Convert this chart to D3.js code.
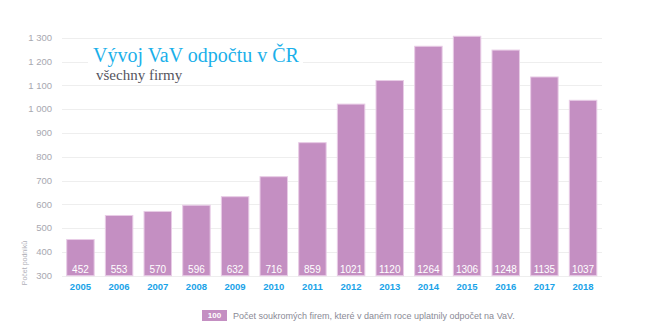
<!DOCTYPE html>
<html><head><meta charset="utf-8">
<script src="https://cdnjs.cloudflare.com/ajax/libs/d3/7.8.5/d3.min.js"></script>
<style>body{margin:0;background:#fff}</style>
</head><body><div id="chart"></div>
<script>
const years = ["2005","2006","2007","2008","2009","2010","2011","2012","2013","2014","2015","2016","2017","2018"];
const firms = [452,553,570,596,632,716,859,1021,1120,1264,1306,1248,1135,1037];
const yTicks = [300,400,500,600,700,800,900,1000,1100,1200,1300];
const title = "Vývoj VaV odpočtu v ČR";
const subtitle = "všechny firmy";
const yTitle = "Počet podniků";
const legendText = "Počet soukromých firem, které v daném roce uplatnily odpočet na VaV.";

const W = 650, H = 331;
const svg = d3.select("#chart").append("svg").attr("width", W).attr("height", H);
const x = d3.scaleBand().domain(years).range([61.1, 602.4]).paddingInner(0.29).paddingOuter(0.145);
const y = d3.scaleLinear().domain([300, 1300]).range([275.7, 37.7]);
const fmt = v => d3.format(",")(v).replace(/,/g, " ");
const sans = "'Liberation Sans', Arial, sans-serif";

// gridlines
svg.append("g").selectAll("line").data(yTicks).join("line")
  .attr("x1", 62).attr("x2", 602)
  .attr("y1", d => Math.round(y(d)) + 0.5).attr("y2", d => Math.round(y(d)) + 0.5)
  .attr("stroke", "#eeeeee").attr("stroke-width", 1.2);

// y tick labels
svg.append("g").selectAll("text").data(yTicks).join("text")
  .attr("x", 52).attr("y", d => y(d)).attr("dy", "0.35em")
  .attr("text-anchor", "end").attr("fill", "#a8a8b0")
  .style("font", "9.5px " + sans).text(fmt);

// y title
svg.append("text").attr("transform", "translate(27,263) rotate(-90)")
  .attr("text-anchor", "middle").attr("fill", "#b0b0b8")
  .style("font", "7px " + sans).text(yTitle);

// bars
svg.append("g").selectAll("rect").data(years).join("rect")
  .attr("x", d => x(d)).attr("width", x.bandwidth())
  .attr("y", (d, i) => y(firms[i])).attr("height", (d, i) => y(300) - y(firms[i]))
  .attr("fill", "#c48fc2").attr("stroke", "#e8cce6").attr("stroke-width", 1);

// bar value labels
svg.append("g").selectAll("text").data(years).join("text")
  .attr("x", d => x(d) + x.bandwidth() / 2).attr("y", 269).attr("dy", "0.35em")
  .attr("text-anchor", "middle").attr("fill", "#ffffff")
  .style("font", "10px " + sans).text((d, i) => firms[i]);

// x labels
svg.append("g").selectAll("text").data(years).join("text")
  .attr("x", d => x(d) + x.bandwidth() / 2).attr("y", 287).attr("dy", "0.35em")
  .attr("text-anchor", "middle").attr("fill", "#1aa3e8")
  .style("font", "bold 9.5px " + sans).text(d => d);

// title box
svg.append("rect").attr("x", 88).attr("y", 42).attr("width", 215).attr("height", 42).attr("fill", "#fff");
svg.append("text").attr("x", 93).attr("y", 62).attr("fill", "#1ab0ea")
  .style("font", "20px 'Liberation Serif', 'DejaVu Serif', serif").text(title);
svg.append("text").attr("x", 96).attr("y", 80).attr("fill", "#555560")
  .style("font", "15px 'Liberation Serif', 'DejaVu Serif', serif").text(subtitle);

// legend
svg.append("rect").attr("x", 202).attr("y", 310).attr("width", 25).attr("height", 11).attr("fill", "#c48fc2");
svg.append("text").attr("x", 214.5).attr("y", 315.5).attr("dy", "0.35em").attr("text-anchor", "middle")
  .attr("fill", "#fff").style("font", "bold 8px " + sans).text("100");
svg.append("text").attr("x", 233).attr("y", 315.5).attr("dy", "0.35em")
  .attr("fill", "#8a8a96").style("font", "9px " + sans).text(legendText);
</script></body></html>
